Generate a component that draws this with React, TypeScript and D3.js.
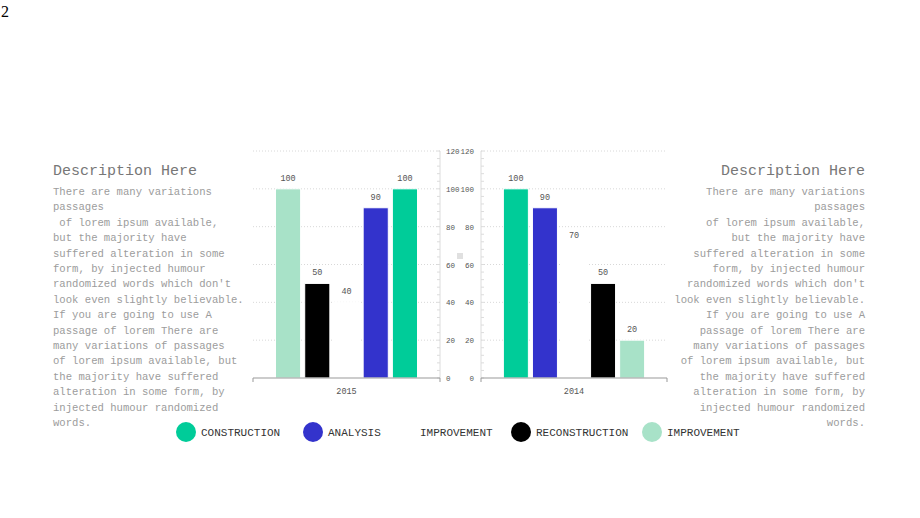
import * as d3 from "d3";

// legend / series order
const seriesNames = ["CONSTRUCTION", "ANALYSIS", "IMPROVEMENT", "RECONSTRUCTION", "IMPROVEMENT"];
const seriesColors = ["#00CC99", "#3333CC", "#FFFFFF", "#000000", "#A8E2C8"];

// values per year, in series order
const values2015 = [100, 90, 40, 50, 100];
const values2014 = [100, 90, 70, 50, 20];
const yTicks = [0, 20, 40, 60, 80, 100, 120];

const bodyLines = [
  "There are many variations",
  "passages",
  " of lorem ipsum available,",
  "but the majority have",
  "suffered alteration in some",
  "form, by injected humour",
  "randomized words which don't",
  "look even slightly believable.",
  "If you are going to use A",
  "passage of lorem There are",
  "many variations of passages",
  "of lorem ipsum available, but",
  "the majority have suffered",
  "alteration in some form, by",
  "injected humour randomized",
  "words.",
];

const W = 920;
const H = 518;
const FONT = "'Liberation Mono', monospace";

const y = d3.scaleLinear().domain([0, 120]).range([378, 151]);
const minorTicks = d3.range(0, 121, 4);

function Panel({year, values, x0, x1, reversed, axisSide}: any) {
  const xCat = d3.scaleBand().domain([year]).range([x0, x1]).paddingOuter(0.14).paddingInner(0);
  const order = reversed ? [4, 3, 2, 1, 0] : [0, 1, 2, 3, 4];
  const xSer = d3.scaleBand<number>()
    .domain(order)
    .range([xCat(year)!, xCat(year)! + xCat.bandwidth()])
    .paddingInner(0.14)
    .paddingOuter(0.07);
  const axisX = axisSide === "right" ? x1 : x0;
  const tickDir = axisSide === "right" ? -1 : 1;
  return (
    <g>
      {yTicks.slice(1).map(t => (
        <line key={t} x1={x0} x2={x1} y1={y(t)} y2={y(t)} stroke="#d8d8d8" strokeDasharray="1,2" />
      ))}
      <line x1={axisX} x2={axisX} y1={y(120)} y2={y(0)} stroke="#dcdcdc" />
      {minorTicks.map(t => (
        <line key={t} x1={axisX} x2={axisX + tickDir * 3} y1={y(t)} y2={y(t)} stroke="#dcdcdc" />
      ))}
      {order.map(i => (
        <g key={i}>
          <rect x={xSer(i)} y={y(values[i])} width={xSer.bandwidth()} height={y(0) - y(values[i])}
            fill={seriesColors[i]} stroke="#fff" strokeWidth={1} />
          <text x={xSer(i)! + xSer.bandwidth() / 2} y={y(values[i]) - 8} textAnchor="middle"
            fontSize={8.5} fill="#555" fontFamily={FONT}>{values[i]}</text>
        </g>
      ))}
      <line x1={x0} x2={x1} y1={y(0)} y2={y(0)} stroke="#999" />
      <line x1={x0} x2={x0} y1={y(0)} y2={y(0) + 4} stroke="#999" />
      <line x1={x1} x2={x1} y1={y(0)} y2={y(0) + 4} stroke="#999" />
      <text x={xCat(year)! + xCat.bandwidth() / 2} y={y(0) + 16} textAnchor="middle" fontSize={8.5}
        fill="#555" fontFamily={FONT}>{year}</text>
      {yTicks.map(t => (
        <text key={t} x={axisSide === "right" ? x1 + 6 : x0 - 7} y={y(t) + 3}
          textAnchor={axisSide === "right" ? "start" : "end"} fontSize={7.5} fill="#555" fontFamily={FONT}>{t}</text>
      ))}
    </g>
  );
}

function TextBlock({x, anchor}: any) {
  return (
    <g fontFamily={FONT}>
      <text x={x} y={175} textAnchor={anchor} fontSize={15} fill="#777">Description Here</text>
      {bodyLines.map((l, i) => (
        <text key={i} x={x} y={195 + i * 15.4} textAnchor={anchor} fontSize={10.6} fill="#9c9c9c"
          style={{whiteSpace: "pre"}}>{l}</text>
      ))}
    </g>
  );
}

const legendX = [186, 313, 405, 521, 652];

export default function App() {
  return (
    <div style={{position: "absolute", left: 0, top: 0}}>
      <svg width={W} height={H} style={{display: "block"}}>
        <rect width={W} height={H} fill="#fff" />
        <text x={1} y={17} fontFamily="serif" fontSize={16} fill="#000">2</text>
        <TextBlock x={53} anchor="start" />
        <TextBlock x={865} anchor="end" />
        <Panel year="2015" values={values2015} x0={253} x1={440} reversed axisSide="right" />
        <Panel year="2014" values={values2014} x0={481} x1={667} axisSide="left" />
        <rect x={457} y={253} width={6} height={6} fill="#e0e0e0" />
        {seriesNames.map((s, i) => (
          <g key={i}>
            <circle cx={legendX[i]} cy={432} r={10} fill={seriesColors[i]} />
            <text x={legendX[i] + 15} y={436} fontSize={11} fill="#333" fontFamily={FONT}>{s}</text>
          </g>
        ))}
      </svg>
    </div>
  );
}
